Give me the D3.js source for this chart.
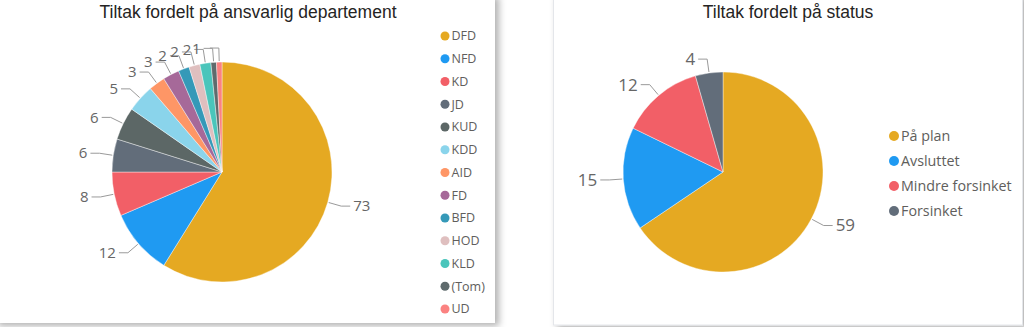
<!DOCTYPE html>
<html><head><meta charset="utf-8">
<script src="https://cdn.jsdelivr.net/npm/d3@7"></script>
<style>
html,body{margin:0;padding:0;background:#fff;overflow:hidden;}
svg{display:block;}
</style></head>
<body>
<svg id="chart" width="1024" height="327"></svg>
<script>
// ---- data ----
const deptNames = ["DFD","NFD","KD","JD","KUD","KDD","AID","FD","BFD","HOD","KLD","(Tom)","UD"];
const deptValues = [73,12,8,6,6,5,3,3,2,2,2,1,1];
const deptColors = ["#E5A922","#1F9AF2","#F25F67","#626D7A","#5C6766","#8AD4EB","#FE9666","#A66999","#3599B8","#DFBFBF","#4AC5BB","#5F6B6D","#FB8281"];
const statusNames = ["På plan","Avsluttet","Mindre forsinket","Forsinket"];
const statusValues = [59,15,12,4];
const statusColors = ["#E5A922","#1F9AF2","#F25F67","#626D7A"];
const titles = ["Tiltak fordelt på ansvarlig departement","Tiltak fordelt på status"];

const svg = d3.select("#chart");
const defs = svg.append("defs");
const f = defs.append("filter").attr("id","sh").attr("x","-10%").attr("y","-10%").attr("width","130%").attr("height","130%");
f.append("feDropShadow").attr("dx",4).attr("dy",3).attr("stdDeviation",3.5).attr("flood-color","#000").attr("flood-opacity",0.3);

// cards
svg.append("rect").attr("x",-6).attr("y",-6).attr("width",501).attr("height",329)
  .attr("fill","#fff").attr("filter","url(#sh)");
svg.append("rect").attr("x",553.5).attr("y",-6).attr("width",469).attr("height",331)
  .attr("fill","#fff").attr("stroke","#e4e6ea").attr("filter","url(#sh)");

// titles
svg.append("text").attr("x",248).attr("y",18).attr("text-anchor","middle")
  .attr("font-family","Liberation Sans, Arial, sans-serif").attr("font-size",17.5).attr("fill","#252423").text(titles[0]);
svg.append("text").attr("x",788).attr("y",18).attr("text-anchor","middle")
  .attr("font-family","Liberation Sans, Arial, sans-serif").attr("font-size",17.5).attr("fill","#252423").text(titles[1]);

function drawPie(names, values, colors, cx, cy, r, fontSize) {
  const g = svg.append("g").attr("transform",`translate(${cx},${cy})`);
  const pie = d3.pie().sort(null).value(d=>d)(values);
  const arc = d3.arc().innerRadius(0).outerRadius(r);
  g.selectAll("path.s").data(pie).join("path").attr("class","s")
    .attr("d",arc).attr("fill",(d,i)=>colors[i]).attr("stroke","#fff").attr("stroke-width",0.4);
  const placed = [];
  pie.forEach((d,i)=>{
    const a = (d.startAngle+d.endAngle)/2;
    const p0 = [Math.sin(a)*(r+1), -Math.cos(a)*(r+1)];
    const p1 = [Math.sin(a)*(r+14), -Math.cos(a)*(r+14)];
    const right = Math.sin(a) >= 0;
    const p2 = [p1[0] + (right?9:-9), p1[1]];
    const t = g.append("text").attr("x", p2[0] + (right?3:-3)).attr("y", p1[1]).attr("dy","0.35em")
      .attr("text-anchor", right?"start":"end")
      .attr("font-family","Open Sans, Noto Sans, sans-serif").attr("font-size",fontSize).attr("fill","#666")
      .text(values[i]);
    const w = t.node().getComputedTextLength();
    const x0 = right ? p2[0]+3 : p2[0]-3-w;
    const box = [x0, p1[1]-fontSize*0.45, x0+w, p1[1]+fontSize*0.45];
    const clash = placed.some(b => !(box[2]<b[0]||box[0]>b[2]||box[3]<b[1]||box[1]>b[3]));
    if (clash) t.remove(); else placed.push(box);
    g.append("polyline").attr("points",[p0,p1,p2].map(p=>p.join(",")).join(" "))
      .attr("fill","none").attr("stroke","#9a9a9a").attr("stroke-width",1);
  });
}
drawPie(deptNames, deptValues, deptColors, 222, 172, 110, 15);
drawPie(statusNames, statusValues, statusColors, 723, 172, 100, 17);

// legends
function legend(names, colors, dotX, y0, step, rad, fs) {
  const g = svg.append("g");
  names.forEach((n,i)=>{
    const y = y0 + i*step;
    g.append("circle").attr("cx",dotX).attr("cy",y).attr("r",rad).attr("fill",colors[i]);
    g.append("text").attr("x",dotX+rad+2).attr("y",y).attr("dy","0.35em")
      .attr("font-family","Open Sans, Noto Sans, sans-serif").attr("font-size",fs).attr("fill","#605e5c").text(n);
  });
}
legend(deptNames, deptColors, 445, 36, 22.75, 4.5, 12.5);
legend(statusNames, statusColors, 894, 136, 25, 5, 14.3);
</script>
</body></html>
